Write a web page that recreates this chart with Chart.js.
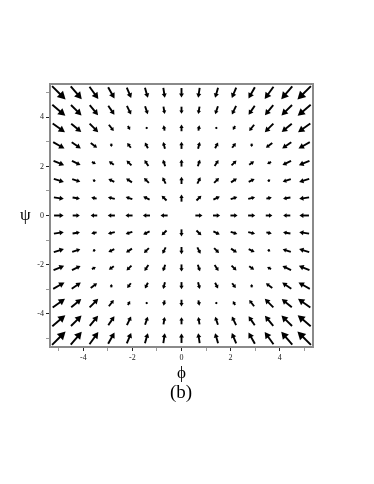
<!DOCTYPE html>
<html>
<head>
<meta charset="utf-8">
<title>Direction field (b)</title>
<script src="https://cdn.jsdelivr.net/npm/chart.js"></script>
<style>
  body { margin: 0; background: #fff; }
  #wrap { position: relative; width: 374px; height: 484px; }
  .lab { position: absolute; font-family: 'Liberation Serif', serif; color: #000; line-height: 1; }
  #psi { left: 20px; top: 206px; font-size: 17px; }
  #cap { left: 131px; width: 100px; top: 382px; font-size: 19px; text-align: center; }
</style>
</head>
<body>
<div id="wrap">
  <canvas id="field"></canvas>
  <div id="psi" class="lab">ψ</div>
  <div id="cap" class="lab">(b)</div>
</div>
<script>
// grid of the field plot (15 x 15), rows listed from top (psi = 5) to bottom (psi = -5)
var gridX = [-5, -4.29, -3.57, -2.86, -2.14, -1.43, -0.71, 0, 0.71, 1.43, 2.14, 2.86, 3.57, 4.29, 5];
var gridY = [5, 4.29, 3.57, 2.86, 2.14, 1.43, 0.71, 0, -0.71, -1.43, -2.14, -2.86, -3.57, -4.29, -5];

// arrow components (data units)
var arrowU = [
  [.55, .45, .36, .26, .18, .12, .06, 0, -.06, -.12, -.18, -.26, -.36, -.45, -.55],
  [.53, .43, .34, .25, .17, .11, .05, 0, -.05, -.11, -.17, -.25, -.34, -.43, -.53],
  [.50, .41, .35, .20, .09, -.10, -.04, 0, .04, .10, -.09, -.20, -.35, -.41, -.50],
  [.46, .37, .26, 0, -.15, -.12, -.07, 0, .07, .12, .15, 0, -.26, -.37, -.46],
  [.43, .35, .16, -.20, -.20, -.16, -.09, 0, .09, .16, .20, .20, -.16, -.35, -.43],
  [.41, .33, -.11, -.24, -.24, -.20, -.13, 0, .13, .20, .24, .24, .11, -.33, -.41],
  [.40, .30, -.22, -.28, -.27, -.26, -.20, 0, .20, .26, .27, .28, .22, -.30, -.40],
  [.39, .29, -.27, -.29, -.29, -.29, -.29, 0, .29, .29, .29, .29, .27, -.29, -.39],
  [.40, .30, -.22, -.28, -.27, -.26, -.20, 0, .20, .26, .27, .28, .22, -.30, -.40],
  [.41, .33, -.11, -.24, -.24, -.20, -.13, 0, .13, .20, .24, .24, .11, -.33, -.41],
  [.43, .35, .16, -.20, -.20, -.16, -.09, 0, .09, .16, .20, .20, -.16, -.35, -.43],
  [.46, .37, .26, 0, -.15, -.12, -.07, 0, .07, .12, .15, 0, -.26, -.37, -.46],
  [.50, .41, .35, .20, .09, -.10, -.04, 0, .04, .10, -.09, -.20, -.35, -.41, -.50],
  [.53, .43, .34, .25, .17, .11, .05, 0, -.05, -.11, -.17, -.25, -.34, -.43, -.53],
  [.55, .45, .36, .26, .18, .12, .06, 0, -.06, -.12, -.18, -.26, -.36, -.45, -.55]
];
var arrowV = [
  [-.55, -.53, -.50, -.46, -.43, -.41, -.40, -.39, -.40, -.41, -.43, -.46, -.50, -.53, -.55],
  [-.45, -.43, -.41, -.37, -.35, -.33, -.30, -.29, -.30, -.33, -.35, -.37, -.41, -.43, -.45],
  [-.36, -.34, -.35, -.26, -.16, 0, .22, .27, .22, 0, -.16, -.26, -.35, -.34, -.36],
  [-.26, -.25, -.20, -.14, .20, .24, .28, .29, .28, .24, .20, -.14, -.20, -.25, -.26],
  [-.18, -.17, -.09, .15, .20, .24, .27, .29, .27, .24, .20, .15, -.09, -.17, -.18],
  [-.12, -.11, .05, .12, .16, .20, .26, .29, .26, .20, .16, .12, .05, -.11, -.12],
  [-.06, -.05, .04, .07, .09, .13, .20, .29, .20, .13, .09, .07, .04, -.05, -.06],
  [0, 0, 0, 0, 0, 0, 0, 0, 0, 0, 0, 0, 0, 0, 0],
  [.06, .05, -.04, -.07, -.09, -.13, -.20, -.29, -.20, -.13, -.09, -.07, -.04, .05, .06],
  [.12, .11, -.05, -.12, -.16, -.20, -.26, -.29, -.26, -.20, -.16, -.12, -.05, .11, .12],
  [.18, .17, .09, -.15, -.20, -.24, -.27, -.29, -.27, -.24, -.20, -.15, .09, .17, .18],
  [.26, .25, .20, .14, -.20, -.24, -.28, -.29, -.28, -.24, -.20, .14, .20, .25, .26],
  [.36, .34, .35, .26, .16, 0, -.22, -.27, -.22, 0, .16, .26, .35, .34, .36],
  [.45, .43, .41, .37, .35, .33, .30, .29, .30, .33, .35, .37, .41, .43, .45],
  [.55, .53, .50, .46, .43, .41, .40, .39, .40, .41, .43, .46, .50, .53, .55]
];

var tickValues = [-5, -4, -3, -2, -1, 0, 1, 2, 3, 4, 5];
var tickLabels = ['', '-4', '', '-2', '', '0', '', '2', '', '4', ''];
var axisRange = [-5.36, 5.36];

var points = [];
gridY.forEach(function(yv, r) {
  gridX.forEach(function(xv, c) {
    points.push({ x: xv, y: yv, u: arrowU[r][c], v: arrowV[r][c] });
  });
});

// draws each point as an arrow centred on its grid position
var arrowPlugin = {
  id: 'arrows',
  afterDatasetsDraw: function(chart) {
    var ctx = chart.ctx, xs = chart.scales.x, ys = chart.scales.y;
    ctx.save();
    ctx.fillStyle = '#000';
    ctx.strokeStyle = '#000';
    ctx.lineCap = 'butt';
    chart.data.datasets[0].data.forEach(function(p) {
      if (!p.u && !p.v) return;
      var x0 = xs.getPixelForValue(p.x - p.u / 2), y0 = ys.getPixelForValue(p.y - p.v / 2);
      var x1 = xs.getPixelForValue(p.x + p.u / 2), y1 = ys.getPixelForValue(p.y + p.v / 2);
      var dx = x1 - x0, dy = y1 - y0, len = Math.hypot(dx, dy);
      var ux = dx / len, uy = dy / len;
      var hl = Math.min(len * 0.65, Math.max(3.4, len * 0.42));
      var hw = hl * 0.48 + 0.5;
      var bx = x1 - ux * hl, by = y1 - uy * hl;
      ctx.lineWidth = 1.9;
      ctx.beginPath();
      ctx.moveTo(x0, y0);
      ctx.lineTo(bx + ux * 0.8, by + uy * 0.8);
      ctx.stroke();
      ctx.beginPath();
      ctx.moveTo(x1, y1);
      ctx.lineTo(bx - uy * hw, by + ux * hw);
      ctx.lineTo(bx + uy * hw, by - ux * hw);
      ctx.closePath();
      ctx.fill();
    });
    ctx.restore();
  }
};

// grey box around the plot area
var framePlugin = {
  id: 'frame',
  afterDraw: function(chart) {
    var a = chart.chartArea, ctx = chart.ctx;
    ctx.save();
    ctx.strokeStyle = '#8a8a8a';
    ctx.lineWidth = 2;
    ctx.strokeRect(a.left, a.top, a.right - a.left, a.bottom - a.top);
    ctx.restore();
  }
};

function fixTicks(scale) {
  scale.ticks = tickValues.map(function(v) { return { value: v }; });
}
function tickText(value) {
  var i = tickValues.indexOf(value);
  return i < 0 ? '' : tickLabels[i];
}
function tickColor(ctx) {
  var v = ctx.tick ? ctx.tick.value : 0;
  return Math.abs(v) % 2 === 1 ? '#9a9a9a' : '#222';
}

var tickFont = { family: "'Liberation Serif', serif", size: 8 };

new Chart(document.getElementById('field'), {
  type: 'scatter',
  data: {
    datasets: [{ data: points, pointRadius: 0, pointHoverRadius: 0, showLine: false }]
  },
  options: {
    responsive: true,
    maintainAspectRatio: false,
    animation: false,
    events: [],
    layout: { padding: { left: 0, top: 84, right: 61, bottom: 102 } },
    plugins: {
      legend: { display: false },
      tooltip: { enabled: false }
    },
    scales: {
      x: {
        type: 'linear',
        min: axisRange[0],
        max: axisRange[1],
        afterBuildTicks: fixTicks,
        afterFit: function(s) { s.height = 35; },
        border: { display: false },
        grid: { drawOnChartArea: false, drawTicks: true, tickLength: 4, color: tickColor, lineWidth: 1 },
        ticks: { autoSkip: false, maxRotation: 0, padding: 2, color: '#222', font: tickFont, callback: tickText },
        title: {
          display: true,
          text: 'ϕ',
          color: '#000',
          font: { family: "'Liberation Serif', serif", size: 17, lineHeight: 1 },
          padding: 0
        }
      },
      y: {
        type: 'linear',
        min: axisRange[0],
        max: axisRange[1],
        afterBuildTicks: fixTicks,
        afterFit: function(s) { s.width = 50; },
        border: { display: false },
        grid: { drawOnChartArea: false, drawTicks: true, tickLength: 4, color: tickColor, lineWidth: 1 },
        ticks: { autoSkip: false, padding: 2, color: '#222', font: tickFont, callback: tickText }
      }
    }
  },
  plugins: [arrowPlugin, framePlugin]
});
</script>
</body>
</html>
